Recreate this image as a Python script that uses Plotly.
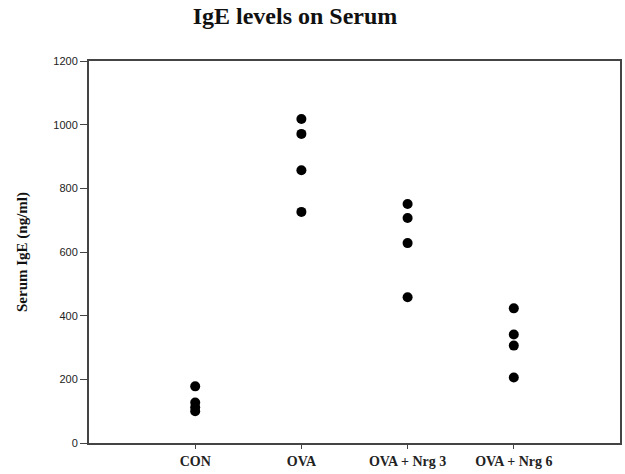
import plotly.graph_objects as go

categories = ["CON", "OVA", "OVA + Nrg 3", "OVA + Nrg 6"]
con = [178, 127, 112, 100]
ova = [1018, 971, 857, 726]
nrg3 = [751, 707, 628, 458]
nrg6 = [423, 341, 306, 206]
y_ticks = [0, 200, 400, 600, 800, 1000, 1200]

groups = [con, ova, nrg3, nrg6]
xs, ys = [], []
for i, g in enumerate(groups):
    for v in g:
        xs.append(i + 1)
        ys.append(v)

fig = go.Figure()
fig.add_trace(go.Scatter(
    x=xs, y=ys, mode="markers",
    marker=dict(color="black", size=10),
    showlegend=False,
))

fig.update_layout(
    width=625, height=474,
    margin=dict(l=89, r=3, t=61, b=31),
    paper_bgcolor="white", plot_bgcolor="white",
    title=dict(text="<b>IgE levels on Serum</b>", x=0.472, xref="container",
               xanchor="center", y=0.968, yanchor="middle",
               font=dict(family="Liberation Serif", size=24, color="#111")),
)
fig.update_xaxes(
    range=[0, 5], tickvals=[1, 2, 3, 4], ticktext=[f"<b>{c}</b>" for c in categories],
    showline=True, linecolor="#444", linewidth=2, mirror=True,
    ticks="outside", ticklen=4, tickcolor="#444",
    showgrid=False, zeroline=False,
    tickfont=dict(family="Liberation Serif", size=14, color="#222"),
)
fig.update_yaxes(
    range=[0, 1200], tickvals=y_ticks,
    showline=True, linecolor="#444", linewidth=2, mirror=True,
    ticks="outside", ticklen=7, tickcolor="#444",
    showgrid=False, zeroline=False,
    tickfont=dict(family="Liberation Sans", size=11, color="#222"),
    title=dict(text="<b>Serum IgE (ng/ml)</b>", standoff=22,
               font=dict(family="Liberation Serif", size=15, color="#111")),
)

fig.write_html("out.html")
